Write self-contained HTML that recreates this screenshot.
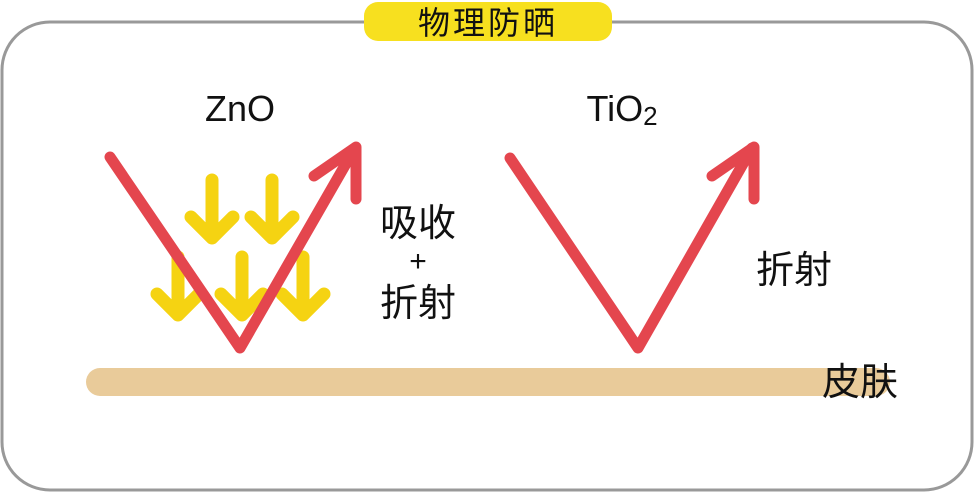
<!DOCTYPE html>
<html><head><meta charset="utf-8"><style>
body{margin:0;background:#fff;width:976px;height:494px;overflow:hidden}
svg text{font-family:"Liberation Sans","Noto Sans CJK SC",sans-serif;fill:#111}
</style></head><body>
<svg width="976" height="494" viewBox="0 0 976 494">
<rect x="2" y="22" width="970" height="468" rx="48" fill="#fff" stroke="#999" stroke-width="3"/>
<rect x="364" y="2" width="248" height="39" rx="14" fill="#f7e01f"/>
<text x="488" y="34" font-size="32" text-anchor="middle" letter-spacing="3">物理防晒</text>
<text x="240" y="121" font-size="36" text-anchor="middle">ZnO</text>
<text x="622" y="121" font-size="36" text-anchor="middle">TiO<tspan font-size="26" dy="4">2</tspan></text>
<rect x="86" y="368" width="804" height="28" rx="14" fill="#e9cb9a"/>
<text x="860" y="395" font-size="38" text-anchor="middle">皮肤</text>
<g stroke="#f5d312" stroke-width="13" stroke-linecap="round" stroke-linejoin="round" fill="none">
<path d="M212 180V238M191 217L212 238L233 217"/>
<path d="M272 180V238M251 217L272 238L293 217"/>
<path d="M178 257V315M157 294L178 315L199 294"/>
<path d="M242 257V315M221 294L242 315L263 294"/>
<path d="M303 257V315M282 294L303 315L324 294"/>
</g>
<g stroke="#e4464e" stroke-width="11" stroke-linecap="round" stroke-linejoin="round" fill="none">
<path d="M110 157L240 348L355 148"/>
<path d="M314 176L356 147L356 199"/>
<path d="M510 158L638 348L752 148"/>
<path d="M712 176L754 147L754 199"/>
</g>
<text x="418" y="236" font-size="38" text-anchor="middle">吸收</text>
<text x="418" y="271" font-size="30" text-anchor="middle">+</text>
<text x="418" y="316" font-size="38" text-anchor="middle">折射</text>
<text x="794" y="283" font-size="38" text-anchor="middle">折射</text>
</svg>
</body></html>
